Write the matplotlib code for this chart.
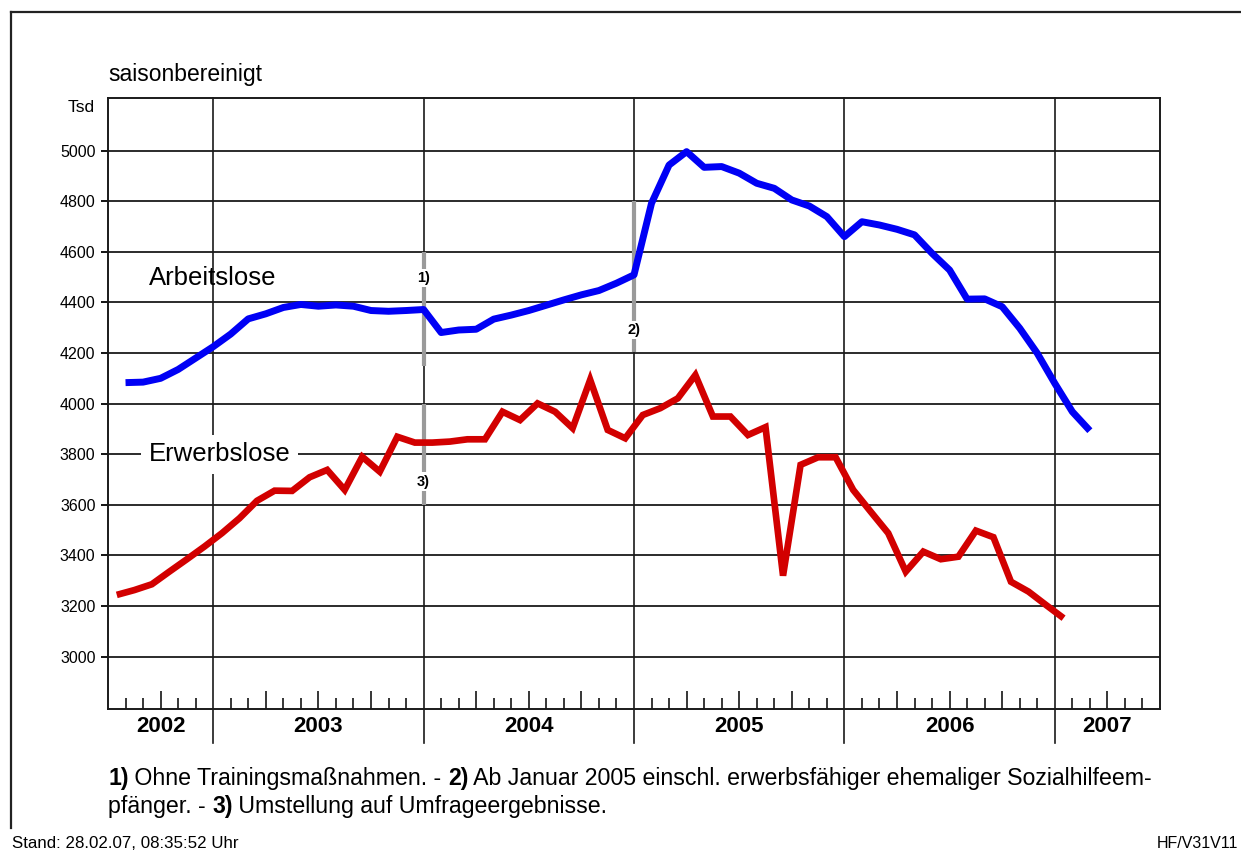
import numpy as np
import matplotlib.pyplot as plt
from matplotlib.lines import Line2D
from matplotlib.transforms import blended_transform_factory

plt.rcParams['font.family'] = ['Liberation Sans', 'DejaVu Sans']

# Arbeitslose, saisonbereinigt, Tsd, Jul 2002 - Feb 2007 (plotted at month end)
arbeitslose = [
    4083, 4085, 4100, 4135, 4180, 4225,
    4275, 4335, 4355, 4380, 4392, 4385, 4390, 4385, 4368, 4365, 4368, 4372,
    4281, 4291, 4294, 4334, 4350, 4368, 4389, 4410, 4430, 4447, 4476, 4509,
    4792, 4943, 4996, 4934, 4937, 4911, 4871, 4851, 4805, 4781, 4739, 4660,
    4719, 4706, 4689, 4667, 4594, 4528, 4413, 4414, 4383, 4298, 4199, 4080,
    3968, 3893,
]
# Erwerbslose, saisonbereinigt, Tsd, Jul 2002 - Jan 2007 (plotted mid-month)
erwerbslose = [
    3244, 3263, 3286, 3336, 3385, 3435,
    3488, 3547, 3616, 3656, 3655, 3709, 3738, 3659, 3790, 3731, 3869, 3846,
    3846, 3850, 3859, 3859, 3968, 3935, 4001, 3968, 3903, 4094, 3896, 3863,
    3955, 3982, 4021, 4113, 3949, 3949, 3876, 3907, 3320, 3758, 3788, 3788,
    3659, 3573, 3488, 3336, 3415, 3385, 3395, 3498, 3472, 3296, 3257, 3204,
    3152,
]
years = ["2002", "2003", "2004", "2005", "2006", "2007"]
y_ticks = [3000, 3200, 3400, 3600, 3800, 4000, 4200, 4400, 4600, 4800, 5000]
n_months = 60  # Jul 2002 .. Jun 2007

# footnote markers: (month position, y from, y to, label y, label)
breaks = [(18, 4150, 4600, 4497, "1)"), (30, 4205, 4800, 4291, "2)"),
          (18, 3600, 4000, 3692, "3)")]

footnote_1 = [("1)", "bold"), (" Ohne Trainingsmaßnahmen. - ", "normal"),
              ("2)", "bold"),
              (" Ab Januar 2005 einschl. erwerbsfähiger ehemaliger Sozialhilfeem-",
               "normal")]
footnote_2 = [("pfänger. - ", "normal"), ("3)", "bold"),
              (" Umstellung auf Umfrageergebnisse.", "normal")]

W, H = 1241, 852
fig = plt.figure(figsize=(W / 100, H / 100), dpi=100)
ax = fig.add_axes([108 / W, 1 - 709 / H, (1160 - 108) / W, (709 - 98) / H])

x_arb = np.arange(len(arbeitslose)) + 1.0
x_erw = np.arange(len(erwerbslose)) + 0.5

ax.plot(x_arb, arbeitslose, color="#0000f5", lw=5, solid_joinstyle="round",
        solid_capstyle="butt", zorder=5)
ax.plot(x_erw, erwerbslose, color="#d20000", lw=4.8, solid_joinstyle="miter",
        solid_capstyle="butt", zorder=5)

ax.set_xlim(0, n_months)
ax.set_ylim(2793, 5208)

# grid
for v in y_ticks:
    ax.axhline(v, color="#1a1a1a", lw=1.3, zorder=1)
year_pos = [m for m in range(1, n_months) if m % 12 == 6]
trans = blended_transform_factory(ax.transData, ax.transAxes)
for m in year_pos:
    ax.plot([m, m], [-0.055, 1], color="#1a1a1a", lw=1.2, transform=trans,
            clip_on=False, zorder=1)

# month ticks, taller ones at quarters
months = [m for m in range(1, n_months) if m % 12 != 6]
quarters = [m for m in months if m % 3 == 0]
ax.set_xticks(quarters)
ax.set_xticks([m for m in months if m % 3 != 0], minor=True)
ax.tick_params(axis="x", which="major", direction="in", length=13, width=1.1,
               labelbottom=False)
ax.tick_params(axis="x", which="minor", direction="in", length=8, width=1.1)

ax.set_yticks(y_ticks)
ax.set_yticklabels([str(v) for v in y_ticks])
ax.tick_params(axis="y", direction="out", length=5, width=1.3, labelsize=11.5,
               pad=4)
for s in ax.spines.values():
    s.set_linewidth(1.4)
    s.set_color("#1a1a1a")

# year labels
starts = [0] + year_pos
ends = year_pos + [n_months]
for label, a, b in zip(years, starts, ends):
    ax.text((a + b) / 2, -0.028, label, transform=trans, ha="center",
            va="center", fontsize=16, fontweight="bold")

# break markers
for xm, y0, y1, ly, lab in breaks:
    ax.plot([xm, xm], [y0, y1], color="#9a9a9a", lw=3, solid_capstyle="butt",
            zorder=3)
    ax.text(xm, ly, lab, ha="center", va="center", fontsize=10.5,
            fontweight="bold", zorder=4,
            bbox=dict(boxstyle="square,pad=0.15", fc="white", ec="none"))

# series labels
ax.text(2.34, 4497, "Arbeitslose", ha="left", va="center", fontsize=18.5,
        zorder=4)
ax.text(2.34, 3800, "Erwerbslose", ha="left", va="center", fontsize=18.5,
        zorder=4,
        bbox=dict(boxstyle="square,pad=0.3", fc="white", ec="none"))

fig.text(108 / W, 1 - 75 / H, "saisonbereinigt", va="center", fontsize=16.5)
fig.text(95 / W, 1 - 108 / H, "Tsd", ha="right", va="center", fontsize=12.5)


def chain(x, y, parts, size):
    """Write one line of text whose pieces switch between bold and normal."""
    prev = fig.text(x, y, parts[0][0], fontweight=parts[0][1], fontsize=size,
                    va="bottom")
    for text, weight in parts[1:]:
        prev = fig.add_artist(plt.Annotation(
            text, xy=(1, 0), xycoords=prev, va="bottom", ha="left",
            fontsize=size, fontweight=weight))


chain(108 / W, 1 - 790 / H, footnote_1, 16.7)
chain(108 / W, 1 - 818 / H, footnote_2, 16.7)

fig.text(12 / W, 1 - 843 / H, "Stand: 28.02.07, 08:35:52 Uhr", va="center",
         fontsize=12.2)
fig.text(1238 / W, 1 - 843 / H, "HF/V31V11", ha="right", va="center",
         fontsize=11.5)

# outer frame
fig.add_artist(Line2D([11 / W, 1.0], [1 - 12 / H, 1 - 12 / H],
                      color="#222222", lw=1.6))
fig.add_artist(Line2D([11 / W, 11 / W], [1 - 12 / H, 1 - 828 / H],
                      color="#222222", lw=1.6))

fig.savefig("out.png", dpi=100)
